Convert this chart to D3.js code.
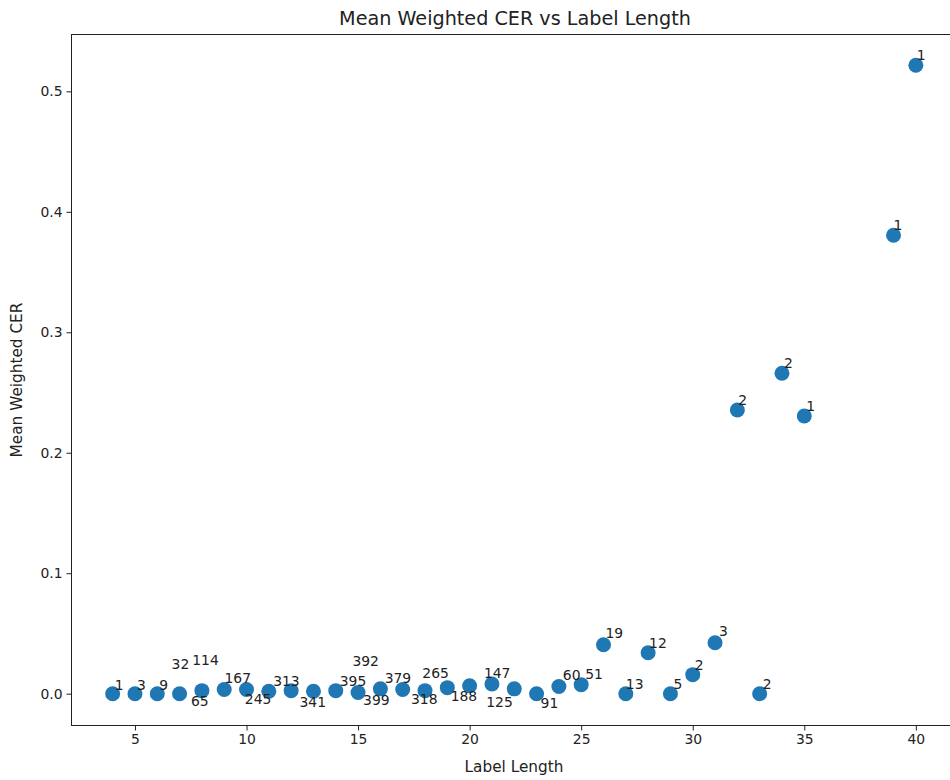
<!DOCTYPE html>
<html>
<head>
<meta charset="utf-8">
<script src="https://cdn.jsdelivr.net/npm/d3@7"></script>
<style>
  body { margin: 0; background: #fff; }
  svg { display: block; font-family: "DejaVu Sans", sans-serif; }
</style>
</head>
<body>
<div id="chart"></div>
<script>
// label lengths (x), mean weighted CER (y), sample counts (annotations)
const labelLengths = [4, 5, 6, 7, 8, 9, 10, 11, 12, 13, 14, 15, 16, 17, 18, 19, 20, 21, 22, 23,
                      24, 25, 26, 27, 28, 29, 30, 31, 32, 33, 34, 35, 39, 40];
const meanCer = [0, 0, 0, 0, 0.0025, 0.0035, 0.0035, 0.002, 0.0025, 0.002, 0.0025, 0.001, 0.004,
                 0.0035, 0.0025, 0.005, 0.0066, 0.008, 0.004, 0, 0.006, 0.0075, 0.0406, 0, 0.034,
                 0, 0.0158, 0.0423, 0.2355, 0, 0.266, 0.2305, 0.3806, 0.5216];
const counts = [1, 3, 9, 32, 65, 114, 167, 245, 313, 341, 395, 399, 392, 379, 318, 265, 188, 147,
                125, 91, 60, 51, 19, 13, 12, 5, 2, 3, 2, 2, 2, 1, 1, 1];
const xTicks = [5, 10, 15, 20, 25, 30, 35, 40];
const yTicks = [0, 0.1, 0.2, 0.3, 0.4, 0.5];

// annotation nudges in px (text left / baseline relative to the marker), as laid out in the figure
const labelNudge = [[2,-4],[2,-4],[2,-4],[-8,-25],[-11,15],[-32,-24],[-22,-6],[-24,13],[-18,-5],
  [-14,16],[4,-5],[5,13],[-28,-23],[-18,-6],[-14,13],[-25,-10],[-19,15],[-8,-6],[-28,18],[4,14],
  [4,-6],[4,-6],[2,-7],[0,-5],[1,-5],[3,-5],[2,-5],[4,-7],[1,-5],[3,-5],[2,-5],[2,-5],[0,-5],[1,-5]];

const W = 950, H = 780;
const svg = d3.select("#chart").append("svg")
    .attr("width", W).attr("height", H);

const x = d3.scaleLinear().domain([2.2, 41.8]).range([72.5, 956]);
const y = d3.scaleLinear().domain([-0.026, 0.5476]).range([725, 34]);

const font = "13.9px";

// axes box
svg.append("rect")
    .attr("x", 71.5).attr("y", 34.5)
    .attr("width", 900).attr("height", 691)
    .attr("fill", "none").attr("stroke", "#222").attr("stroke-width", 1);

// x axis
const gx = svg.append("g").attr("transform", "translate(0,725.5)")
    .call(d3.axisBottom(x).tickValues(xTicks).tickSize(5).tickPadding(4).tickFormat(d3.format("d")));
gx.select(".domain").remove();
gx.selectAll("text").attr("font-size", font).attr("fill", "#222").attr("font-family", "DejaVu Sans");
gx.selectAll("line").attr("stroke", "#222");

// y axis
const gy = svg.append("g").attr("transform", "translate(71.5,0)")
    .call(d3.axisLeft(y).tickValues(yTicks).tickSize(5).tickPadding(4).tickFormat(d3.format(".1f")));
gy.select(".domain").remove();
gy.selectAll("text").attr("font-size", font).attr("fill", "#222").attr("font-family", "DejaVu Sans");
gy.selectAll("line").attr("stroke", "#222");

// points
const pts = labelLengths.map((d, i) => ({ x: d, y: meanCer[i], n: counts[i], nudge: labelNudge[i] }));

svg.append("g").selectAll("circle")
    .data(pts)
    .join("circle")
    .attr("cx", d => x(d.x))
    .attr("cy", d => y(d.y))
    .attr("r", 7.5)
    .attr("fill", "#1f77b4");

svg.append("g").selectAll("text")
    .data(pts)
    .join("text")
    .attr("x", d => x(d.x) + d.nudge[0])
    .attr("y", d => y(d.y) + d.nudge[1])
    .attr("font-size", font)
    .attr("fill", "#222")
    .text(d => d.n);

// title + axis labels
svg.append("text")
    .attr("x", 515).attr("y", 25)
    .attr("text-anchor", "middle")
    .attr("font-size", "19.2px").attr("fill", "#222")
    .text("Mean Weighted CER vs Label Length");

svg.append("text")
    .attr("x", 514).attr("y", 772)
    .attr("text-anchor", "middle")
    .attr("font-size", "15.3px").attr("fill", "#222")
    .text("Label Length");

svg.append("text")
    .attr("transform", "translate(22,380) rotate(-90)")
    .attr("text-anchor", "middle")
    .attr("font-size", "15.3px").attr("fill", "#222")
    .text("Mean Weighted CER");
</script>
</body>
</html>
